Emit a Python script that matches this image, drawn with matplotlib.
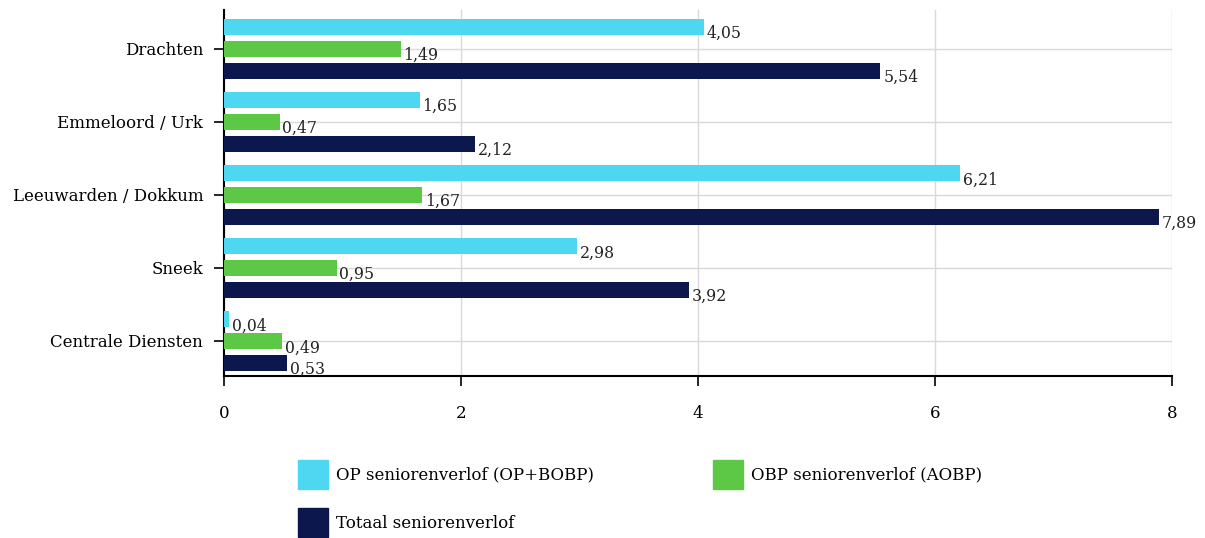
import matplotlib
matplotlib.use("Agg")
import matplotlib.pyplot as plt
import numpy as np
from matplotlib.patches import Patch

categories = ["Drachten", "Emmeloord / Urk", "Leeuwarden / Dokkum", "Sneek", "Centrale Diensten"]
series_names = ["OP seniorenverlof (OP+BOBP)", "OBP seniorenverlof (AOBP)", "Totaal seniorenverlof"]
op = [4.05, 1.65, 6.21, 2.98, 0.04]
obp = [1.49, 0.47, 1.67, 0.95, 0.49]
totaal = [5.54, 2.12, 7.89, 3.92, 0.53]
colors = ["#4DD7F0", "#5CC846", "#0C174D"]
xticks = [0, 2, 4, 6, 8]

plt.rcParams['font.family'] = ['DejaVu Serif']

fig = plt.figure(figsize=(12.05, 5.38), dpi=100)
ax = fig.add_axes([224/1205, 1 - 376/538, (1172-224)/1205, (376-10)/538])

n = len(categories)
ypos = np.arange(n)[::-1]  # Drachten at top
h = 0.22
offs = [0.30, 0.0, -0.30]
for vals, off, c in zip([op, obp, totaal], offs, colors):
    bars = ax.barh(ypos + off, vals, height=h, color=c, zorder=3)
    for b, v in zip(bars, vals):
        ax.annotate(f"{v:.2f}".replace(".", ","), (b.get_width(), b.get_y() + b.get_height()/2),
                    xytext=(2, -5), textcoords="offset points", va="center", ha="left",
                    fontsize=11.3, color="#222222", zorder=4)

ax.set_xlim(0, 8)
ax.set_ylim(-0.48, n - 1 + 0.53)
ax.set_yticks(ypos)
ax.set_yticklabels(categories, fontsize=12)
ax.set_xticks(xticks)
ax.set_xticklabels([str(t) for t in xticks], fontsize=12)
ax.tick_params(axis='y', length=7, width=1.2, pad=8)
ax.tick_params(axis='x', length=7, width=1.2, pad=14)
ax.grid(True, color="#d9d9d9", linewidth=1, zorder=0)
ax.set_axisbelow(True)
for s in ["top", "right"]:
    ax.spines[s].set_visible(False)
ax.spines["left"].set_linewidth(1.5)
ax.spines["bottom"].set_linewidth(1.5)

handles = [Patch(facecolor=c, edgecolor=c) for c in colors]
order = [0, 2, 1]  # row-major fill for 2 columns
fig.legend([handles[i] for i in order], [series_names[i] for i in order],
           loc="upper left", bbox_to_anchor=(283/1205, 1 - 445/538),
           ncol=2, frameon=False, fontsize=12, handlelength=1.8, handleheight=2.3,
           columnspacing=7.1, labelspacing=1.15, handletextpad=0.5)

fig.savefig("out.png", dpi=100)
